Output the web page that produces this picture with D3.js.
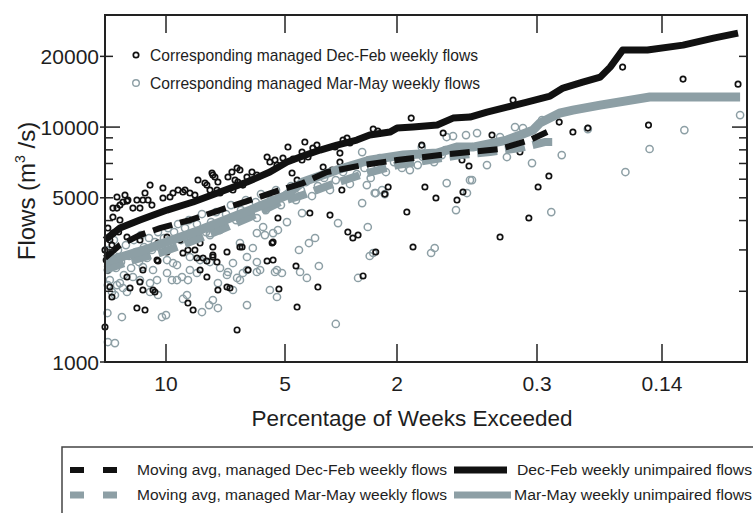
<!DOCTYPE html>
<html>
<head>
<meta charset="utf-8">
<script src="https://cdn.jsdelivr.net/npm/d3@7"></script>
<style>
  body { margin: 0; background: #fff; }
  svg { display: block; }
  text { font-family: "Liberation Sans", Arial, Helvetica, sans-serif; fill: #1e1e1e; }
</style>
</head>
<body>
<svg id="chart" width="753" height="513"></svg>
<script>
// ---- data (percentage of weeks exceeded, flow in m3/s) ----
const xTickValues = [10, 5, 2, 0.3, 0.14];
const yLabelValues = [1000, 5000, 10000, 20000];
const yMinorValues = [2000, 3000, 4000, 5000, 6000, 7000, 8000, 9000, 20000];
const yMajorValues = [1000, 10000];

const decFebUnimpairedPct = [14.3, 13.1, 11.65, 9.94, 8.54, 7.3, 6.24, 5.46, 4.92, 4.32, 3.75, 3.27, 2.78, 2.5, 2.12, 2.0, 1.61, 1.16, 0.936, 0.744, 0.591, 0.451, 0.344, 0.277, 0.256, 0.227, 0.204, 0.192, 0.178, 0.153, 0.123, 0.102, 0.0877];
const decFebUnimpairedFlow = [3305, 3717, 4020, 4434, 4797, 5290, 5834, 6436, 7100, 7527, 7983, 8380, 8805, 9248, 9522, 9900, 10000, 10200, 10920, 11030, 11580, 12170, 12780, 13550, 14660, 15540, 16320, 18000, 21270, 21270, 22330, 23920, 25120];

const marMayUnimpairedPct = [14.3, 10.98, 8.2, 6.13, 5.0, 4.32, 3.27, 2.5, 1.84, 1.16, 0.887, 0.714, 0.451, 0.317, 0.295, 0.261, 0.241, 0.204, 0.151, 0.0866];
const marMayUnimpairedFlow = [2664, 3057, 3645, 4434, 5087, 5835, 6563, 7238, 7600, 7752, 8220, 8220, 8805, 9711, 10400, 11470, 11812, 12410, 13420, 13420];

const decFebAvgPct = [14.3, 13.1, 11.65, 10.36, 8.7, 7.3, 6.13, 5.15, 4.32, 3.55, 2.64, 2.0, 1.116, 0.744, 0.495, 0.33, 0.282];
const decFebAvgFlow = [2772, 3146, 3470, 3717, 4020, 4434, 4890, 5395, 5777, 6436, 6891, 7238, 7600, 7828, 8065, 8805, 9523];

const marMayAvgPct = [14.3, 12.35, 10.36, 8.7, 7.3, 6.13, 5.15, 4.42, 3.46, 2.71, 2.0, 1.28, 0.851, 0.566, 0.378, 0.286, 0.267];
const marMayAvgFlow = [2464, 2690, 2910, 3241, 3645, 4141, 4795, 5087, 5664, 6248, 6891, 7238, 7600, 7828, 8145, 8634, 8634];

const decFebPoints = [
  [13.65,4520],[13.33,5040],[13.33,4520],[13.1,4655],[12.87,4795],[12.57,4841],[12.5,4890],[12.14,4520],[11.86,4890],[11.65,4520],
  [11.45,4890],[11.31,5239],[11.11,4890],[10.98,5664],[10.86,4655],[12.72,5136],[10.18,5504],[10.18,4990],[9.77,5039],[9.6,5239],
  [9.32,5395],[9.06,5290],[8.95,5395],[8.7,5239],[8.45,5136],[8.3,5950],[7.97,5777],[7.88,5664],[7.74,5395],[7.65,6373],
  [7.61,6248],[7.52,6130],[7.43,5395],[7.39,5835],[7.3,5239],[6.97,6130],[6.81,6436],[6.77,5395],[6.61,6695],[6.5,6563],
  [6.69,5950],[6.58,5835],[6.39,5664],[6.24,6130],[6.06,6436],[5.89,6248],[5.55,7456],[5.46,7098],[5.3,7238],[5.24,6891],
  [13.65,4141],[13.1,4020],
  [5.06,7384],[4.88,8224],[4.68,7313],[4.35,7828],[4.25,8634],[4.14,7456],[3.98,8145],[3.85,8382],[3.32,8224],[3.11,8805],
  [3.01,8983],[2.94,8550],[3.19,7751],[2.43,9806],[2.34,9614],[1.65,10922],[1.43,8382],[1.07,9430],[0.552,9245],[0.754,6825],
  [3.66,6760],[3.4,6563],[3.19,7098],[2.8,6891],[2.54,7238],[0.829,7238],[4.72,6373],[4.53,5950],[4.35,7238],
  [0.415,13028],[0.178,18000],[0.123,16007],[0.0877,15230],[0.152,10196],[0.22,9903],[0.241,9523],[0.262,10502],[0.279,6189],
  [0.298,5557],[0.378,7828],[0.335,4101],[0.495,3404],
  [1.37,5557],[2.15,5557],[0.887,4890],[0.818,5290],[1.18,4990],[1.75,4348],[1.61,3087],[2.38,2939],[2.64,2324],[3.82,2085],
  [4.53,1714],[4.57,2562],[5.18,2045],[5.36,3241],[5.36,2717],[5.55,2691],[5.21,4101],[4.08,4305],[3.46,4221],[2.99,3574],
  [2.87,3372],[2.75,3470],[2.21,5185],[3.14,5395],
  [9.94,3404],[10.48,3209],[8.45,2997],[8.06,2772],[7.61,2853],[7.43,2664],[7.88,2301],[7.39,2025],[6.89,2065],[6.42,3087],
  [6.2,2464],[5.39,3209],[8.8,1782],[8.54,1664],[11.86,1697],[11.31,1664],[13.73,1891],[6.61,1369],[14.3,1410],[10.67,1986],
  [12.35,2065],[11.65,2190],[14.1,2464],[13.9,3305],[11.45,2910],[10.54,2717],[7.01,2086],[8.2,2464],[7.88,2690],[7.61,2799],
  [8.35,2772],[6.5,3087],[7.01,2939],[8.8,2997],[9.94,2939],[11.65,3305],[12.57,3404],[13.65,3539],[9.22,3305],[8.2,3209],
  [7.61,3087],[9.06,2910],[10.48,2691],[11.45,2464],[11.45,2025],[10.79,2025],[12.57,2301],[13.9,2086],
  [14.3,2997],[14.2,2717],[14.06,3717],[13.73,3146],[13.2,3574]
];

const marMayPoints = [
  [14.1,1616],[12.95,1554],[10.24,1554],[10.0,1584],[14.06,1216],[13.49,1204],[12.87,2065],[12.57,1986],[13.49,1928],[10.48,1928],
  [10.98,1986],[9.06,1855],[8.85,1928],[8.11,1632],[7.78,1747],[7.61,1835],[7.39,1697],[6.24,1747],[5.46,2025],[5.24,1891],
  [8.7,2464],[8.35,2393],[8.8,2233],[6.97,2416],[7.39,2168],[6.61,2279],[6.39,2393],[5.78,2464],[5.24,2464],[6.03,3057],
  [5.68,3755],[5.36,3539],[7.74,3539],[7.3,3645],[11.45,2538],[12.14,2301],[9.94,2393],[9.6,2638],[9.38,2233],[10.98,2168],
  [13.1,2168],[14.06,2126],[6.77,2638],[8.2,2717],[8.7,2799],[6.77,2025],[6.5,2233],[7.01,2346],[7.3,2513],[9.11,2301],
  [9.66,2233],[10.54,2233],[11.65,2233],[13.33,2126],[13.73,1986],[9.38,2587],[7.74,2664],[6.24,2464],[5.89,2416],[5.89,2664],
  [6.24,2799],[7.74,3470],[6.5,3209],[5.89,3539],[10.79,2464],[9.94,2717],
  [5.21,3645],[4.92,3942],[3.24,3903],[2.54,3755],[3.91,3372],[4.11,3209],[4.46,2997],[3.79,2562],[4.18,2279],[4.42,2416],
  [5.3,2416],[5.09,2393],[2.75,2279],[2.5,2826],[2.43,2910],[3.3,1452],[1.26,2910],[1.2,3057],[0.899,4434],[0.775,5239],
  [2.38,5239],[2.66,4748],[4.35,4305],[5.62,3470],[5.89,4101],[0.275,4348],[1.02,5777],[0.724,5950],
  [0.0866,11245],[0.122,9711],[0.151,8065],[0.175,6436],[0.22,9806],[0.258,7600],[0.321,7028],[0.451,7456],[0.404,10003],[0.363,9903],
  [0.291,10710],[0.495,9070],[0.936,9157],[0.785,9245],[0.676,9430],[0.591,6891],[0.744,5950],[1.43,8224],[1.68,7384],[2.21,5185],
  [2.4,5239],[1.02,9070],[1.04,7983],[1.41,7456],[1.68,6563],[2.3,7384],[2.56,5664],[2.26,5395],[1.87,7313],[2.66,7828],
  [14.2,2997],[14.06,2464],[13.9,2233],[13.73,2771],[13.57,3305],[13.41,2513],[13.25,2997],[13.02,2664],[12.8,2346],[12.65,3146],
  [12.42,2826],[12.27,2513],[12.07,3305],[11.93,2939],[11.72,2664],[11.58,3470],[11.38,3087],[11.18,2772],[11.05,3372],[10.86,2997],
  [10.67,3241],[10.48,3574],[10.3,3057],[10.12,3372],[9.88,3717],[9.71,3178],[9.54,3574],[9.32,3866],[9.16,3305],[8.95,3717],
  [8.75,4020],[8.54,3505],[8.35,3866],[8.11,4264],[7.92,3574],[7.69,3942],[7.47,4348],[7.26,3791],[7.05,4264],[6.85,4655],
  [6.65,4020],[6.46,4434],[6.28,4890],[6.1,4264],[5.93,4795],[5.75,5185],[5.59,4434],[5.43,4890],[5.27,5395],[5.12,4655],
  [4.96,5136],[4.76,5611],[4.57,4890],[4.39,5395],[4.21,5835],[4.01,5087],[3.82,5611],[3.63,6070],[3.46,5395],[3.3,5950],
  [3.11,6436],[2.94,5722],[2.78,6311],[2.61,6695],[2.48,6070],[2.34,6825],[2.19,6436],[2.05,7098],[1.87,6695],[1.68,7238],
  [1.51,6891],[1.35,7527],[1.21,7098],[1.09,7600]
];

// ---- layout ----
const svg = d3.select('#chart');
const margin = { left: 105, top: 15 };
const W = 642, H = 347;
const black = '#111';
const grey = '#8d9fa5';

// the x axis is a stretched exceedance scale, log between the labelled ticks
const x = d3.scaleLog()
    .domain([14.3, 10, 5, 2, 0.3, 0.14, 0.083])
    .range([0, 61, 180, 292, 432, 557, W]);
const y = d3.scaleLog().domain([1000, 30000]).range([H, 0]);

const g = svg.append('g').attr('transform', `translate(${margin.left},${margin.top})`);

const zip = (a, b) => a.map((v, i) => [v, b[i]]);
const line = d3.line().x(d => x(d[0])).y(d => y(d[1]));

g.append('defs').append('clipPath').attr('id', 'plotClip')
  .append('rect').attr('x', -6).attr('y', -6).attr('width', W + 12).attr('height', H + 12);

const plot = g.append('g').attr('clip-path', 'url(#plotClip)');

// Scatter: Mar-May first, Dec-Feb on top
plot.selectAll('circle.mm').data(marMayPoints).join('circle')
    .attr('class', 'mm')
    .attr('cx', d => x(d[0])).attr('cy', d => y(d[1]))
    .attr('r', 3.6).attr('fill', 'none')
    .attr('stroke', grey).attr('stroke-width', 1.5);

plot.selectAll('circle.df').data(decFebPoints).join('circle')
    .attr('class', 'df')
    .attr('cx', d => x(d[0])).attr('cy', d => y(d[1]))
    .attr('r', 2.7).attr('fill', 'none')
    .attr('stroke', black).attr('stroke-width', 1.7);

// Lines
plot.append('path').datum(zip(marMayAvgPct, marMayAvgFlow))
    .attr('d', line).attr('fill', 'none')
    .attr('stroke', grey).attr('stroke-width', 8)
    .attr('stroke-dasharray', '20 8');

plot.append('path').datum(zip(marMayUnimpairedPct, marMayUnimpairedFlow))
    .attr('d', line).attr('fill', 'none')
    .attr('stroke', grey).attr('stroke-width', 9);

plot.append('path').datum(zip(decFebAvgPct, decFebAvgFlow))
    .attr('d', line).attr('fill', 'none')
    .attr('stroke', black).attr('stroke-width', 6)
    .attr('stroke-dasharray', '20 8');

plot.append('path').datum(zip(decFebUnimpairedPct, decFebUnimpairedFlow))
    .attr('d', line).attr('fill', 'none')
    .attr('stroke', black).attr('stroke-width', 7)
    .attr('stroke-linejoin', 'round');

// Frame
g.append('rect').attr('width', W).attr('height', H)
    .attr('fill', 'none').attr('stroke', '#222').attr('stroke-width', 2);

// x ticks, inward from top and bottom
xTickValues.forEach(v => {
  const xp = x(v);
  g.append('line').attr('x1', xp).attr('x2', xp).attr('y1', H).attr('y2', H - 18)
      .attr('stroke', '#222').attr('stroke-width', 1.5);
  g.append('line').attr('x1', xp).attr('x2', xp).attr('y1', 0).attr('y2', 18)
      .attr('stroke', '#222').attr('stroke-width', 1.5);
  g.append('text').attr('x', xp).attr('y', H + 29)
      .attr('text-anchor', 'middle').attr('font-size', 21).text(v);
});

// y ticks: minor inward on both sides, major longer, small outward tick at labels
yMinorValues.forEach(v => {
  const yp = y(v);
  g.append('line').attr('x1', 0).attr('x2', 8).attr('y1', yp).attr('y2', yp)
      .attr('stroke', '#222').attr('stroke-width', 1.5);
  g.append('line').attr('x1', W).attr('x2', W - 8).attr('y1', yp).attr('y2', yp)
      .attr('stroke', '#222').attr('stroke-width', 1.5);
});
yMajorValues.forEach(v => {
  const yp = y(v);
  g.append('line').attr('x1', 0).attr('x2', 15).attr('y1', yp).attr('y2', yp)
      .attr('stroke', '#222').attr('stroke-width', 1.5);
  g.append('line').attr('x1', W).attr('x2', W - 15).attr('y1', yp).attr('y2', yp)
      .attr('stroke', '#222').attr('stroke-width', 1.5);
});
yLabelValues.forEach(v => {
  const yp = y(v);
  g.append('line').attr('x1', -5).attr('x2', 0).attr('y1', yp).attr('y2', yp)
      .attr('stroke', '#222').attr('stroke-width', 1.5);
  g.append('text').attr('x', -6).attr('y', yp).attr('dy', '0.36em')
      .attr('text-anchor', 'end').attr('font-size', 21).text(v);
});

// Axis titles
svg.append('text').attr('x', 412).attr('y', 426)
    .attr('text-anchor', 'middle').attr('font-size', 22.5)
    .text('Percentage of Weeks Exceeded');

const yTitle = svg.append('text')
    .attr('transform', 'translate(35,191) rotate(-90)')
    .attr('text-anchor', 'middle').attr('font-size', 24);
yTitle.append('tspan').text('Flows (m');
yTitle.append('tspan').attr('font-size', 14).attr('dy', -10).text('3');
yTitle.append('tspan').attr('dy', 10).text(' /s)');

// Inner legend (scatter series)
const inner = [
  { label: 'Corresponding managed Dec-Feb weekly flows', color: black, r: 2.7, sw: 1.7, y: 55, len: 328 },
  { label: 'Corresponding managed Mar-May weekly flows', color: grey, r: 3.3, sw: 1.4, y: 83, len: 330 }
];
inner.forEach(d => {
  svg.append('circle').attr('cx', 136).attr('cy', d.y).attr('r', d.r)
      .attr('fill', 'none').attr('stroke', d.color).attr('stroke-width', d.sw);
  svg.append('text').attr('x', 150).attr('y', d.y + 6).attr('font-size', 17)
      .attr('textLength', d.len).attr('lengthAdjust', 'spacingAndGlyphs')
      .text(d.label);
});

// Bottom legend box
svg.append('rect').attr('x', 62).attr('y', 447).attr('width', 720).attr('height', 100)
    .attr('fill', 'none').attr('stroke', '#444').attr('stroke-width', 1.5);

const legendRows = [
  { y: 470, color: black, dashW: 6, solidW: 7, avg: 'Moving avg, managed Dec-Feb weekly flows', unimp: 'Dec-Feb weekly unimpaired flows', ux: 517, ul: 235, sx2: 507 },
  { y: 495, color: grey, dashW: 7, solidW: 7, avg: 'Moving avg, managed Mar-May weekly flows', unimp: 'Mar-May weekly unimpaired flows', ux: 514, ul: 238, sx2: 511 }
];
legendRows.forEach(r => {
  svg.append('line').attr('x1', 70).attr('x2', 118).attr('y1', r.y).attr('y2', r.y)
      .attr('stroke', r.color).attr('stroke-width', r.dashW).attr('stroke-dasharray', '14 19');
  svg.append('text').attr('x', 137).attr('y', r.y + 5).attr('font-size', 15.5)
      .attr('textLength', 310).attr('lengthAdjust', 'spacingAndGlyphs').text(r.avg);
  svg.append('line').attr('x1', 454).attr('x2', r.sx2).attr('y1', r.y).attr('y2', r.y)
      .attr('stroke', r.color).attr('stroke-width', r.solidW);
  svg.append('text').attr('x', r.ux).attr('y', r.y + 5).attr('font-size', 15.5)
      .attr('textLength', r.ul).attr('lengthAdjust', 'spacingAndGlyphs').text(r.unimp);
});
</script>
</body>
</html>
